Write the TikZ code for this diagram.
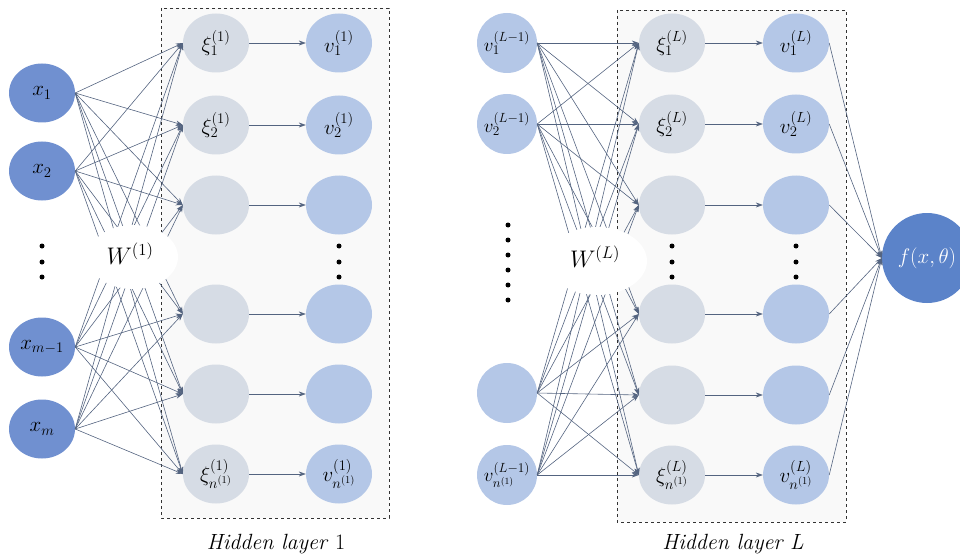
\documentclass[tikz,border=0pt]{standalone}
\usepackage{fix-cm}
\usetikzlibrary{arrows.meta,shapes.geometric}
\definecolor{inblue}{RGB}{112,144,208}
\definecolor{fblue}{RGB}{91,131,201}
\definecolor{vblue}{RGB}{180,199,231}
\definecolor{xigray}{RGB}{214,220,229}
\definecolor{edgec}{RGB}{84,100,128}
\definecolor{boxfill}{RGB}{249,249,249}
\tikzset{
  neuron/.style={ellipse, inner sep=0pt, minimum width=66pt, minimum height=59pt, font=\fontsize{21}{24}\selectfont},
  innode/.style={neuron, fill=inblue},
  xinode/.style={neuron, fill=xigray},
  vnode/.style={neuron, fill=vblue},
  pnode/.style={ellipse, inner sep=0pt, fill=vblue, minimum width=60pt, minimum height=60pt},
  lab/.style={font=\fontsize{21}{24}\selectfont},
  plab/.style={font=\fontsize{19}{22}\selectfont},
  conn/.style={draw=edgec, line width=0.6pt, -{Stealth[length=7pt,width=5pt]}},
  dotc/.style={circle, fill=black, inner sep=0pt, minimum size=5pt},
  layerbox/.style={draw=black!80, dashed, line width=0.8pt, fill=boxfill},
  wcover/.style={ellipse, fill=white, inner sep=0pt},
  wlabel/.style={font=\fontsize{24}{28}\selectfont},
  caption/.style={font=\fontsize{22}{26}\selectfont}
}
\begin{document}
\begin{tikzpicture}[x=1pt,y=-1pt]
\useasboundingbox (0,0) rectangle (960,556);
% boxes
\path[layerbox] (161,8) rectangle (389,518);
\path[layerbox] (617,10) rectangle (846,522);
% left panel nodes
\node[innode] (x1) at (42,93) {$x_1$};
\node[innode] (x2) at (42,171) {$x_2$};
\node[innode] (x3) at (42,347) {$x_{m-1}$};
\node[innode] (x4) at (42,429) {$x_m$};
\foreach \i/\y in {1/43,2/125,3/205,4/314,5/394,6/474}{
  \node[xinode] (h\i) at (216,\y) {};
  \node[vnode] (v\i) at (339,\y) {};
}
\node[lab] (lh1) at (h1) {$\xi_1^{(1)}$};
\node[lab] (lh2) at (h2) {$\xi_2^{(1)}$};
\node[lab] (lh6) at (h6) {$\xi_{n^{(1)}}^{(1)}$};
\node[lab] (lv1) at (v1) {$v_1^{(1)}$};
\node[lab] (lv2) at (v2) {$v_2^{(1)}$};
\node[lab] (lv6) at (v6) {$v_{n^{(1)}}^{(1)}$};
% right panel nodes
\foreach \i/\y in {1/43,2/124,3/393,4/475}{
  \node[pnode] (p\i) at (507,\y) {};
}
\node[plab] (lp1) at (p1) {$v_1^{(L-1)}$};
\node[plab] (lp2) at (p2) {$v_2^{(L-1)}$};
\node[plab] (lp4) at (p4) {$v_{n^{(1)}}^{(L-1)}$};
\foreach \i/\y in {1/43,2/124,3/205,4/314,5/395,6/475}{
  \node[xinode] (k\i) at (672,\y) {};
  \node[vnode] (u\i) at (796,\y) {};
}
\node[lab] (lk1) at (k1) {$\xi_1^{(L)}$};
\node[lab] (lk2) at (k2) {$\xi_2^{(L)}$};
\node[lab] (lk6) at (k6) {$\xi_{n^{(1)}}^{(L)}$};
\node[lab] (lu1) at (u1) {$v_1^{(L)}$};
\node[lab] (lu2) at (u2) {$v_2^{(L)}$};
\node[lab] (lu6) at (u6) {$v_{n^{(1)}}^{(L)}$};
\node[circle, fill=fblue, inner sep=0pt, minimum size=90pt, text=white, font=\fontsize{21}{24}\selectfont] (f) at (927,258) {$f(x,\theta)$};
% edges
\foreach \a in {1,2,3,4}{
  \foreach \b in {1,...,6}{
    \draw[conn] (x\a.east) -- (h\b.west);
    \draw[conn] (p\a.east) -- (k\b.west);
  }
}
\foreach \b in {1,...,6}{
  \draw[conn] (h\b.east) -- (v\b.west);
  \draw[conn] (k\b.east) -- (u\b.west);
  \draw[conn] (u\b.east) -- (f.west);
}
% W labels
\node[wcover, minimum width=90pt, minimum height=64pt] (w1c) at (133,257) {};
\node[wlabel] (w1) at (130,254) {$W^{(1)}$};
\node[wcover, minimum width=100pt, minimum height=68pt] (wLc) at (597,261) {};
\node[wlabel] (wL) at (595,257) {$W^{(L)}$};
% dots
\foreach \y [count=\j] in {246,262,277}{
  \node[dotc] (ld\j) at (42,\y) {};
  \node[dotc] (vd\j) at (339,\y) {};
  \node[dotc] (kd\j) at (672,\y) {};
  \node[dotc] (ud\j) at (796,\y) {};
}
\foreach \y [count=\j] in {225,240,255,270,285,300}{
  \node[dotc] (pd\j) at (508,\y) {};
}
% captions
\node[caption] (c1) at (276,544) {\textit{Hidden layer} 1};
\node[caption] (c2) at (733,544) {\textit{Hidden layer L}};
\end{tikzpicture}
\end{document}
